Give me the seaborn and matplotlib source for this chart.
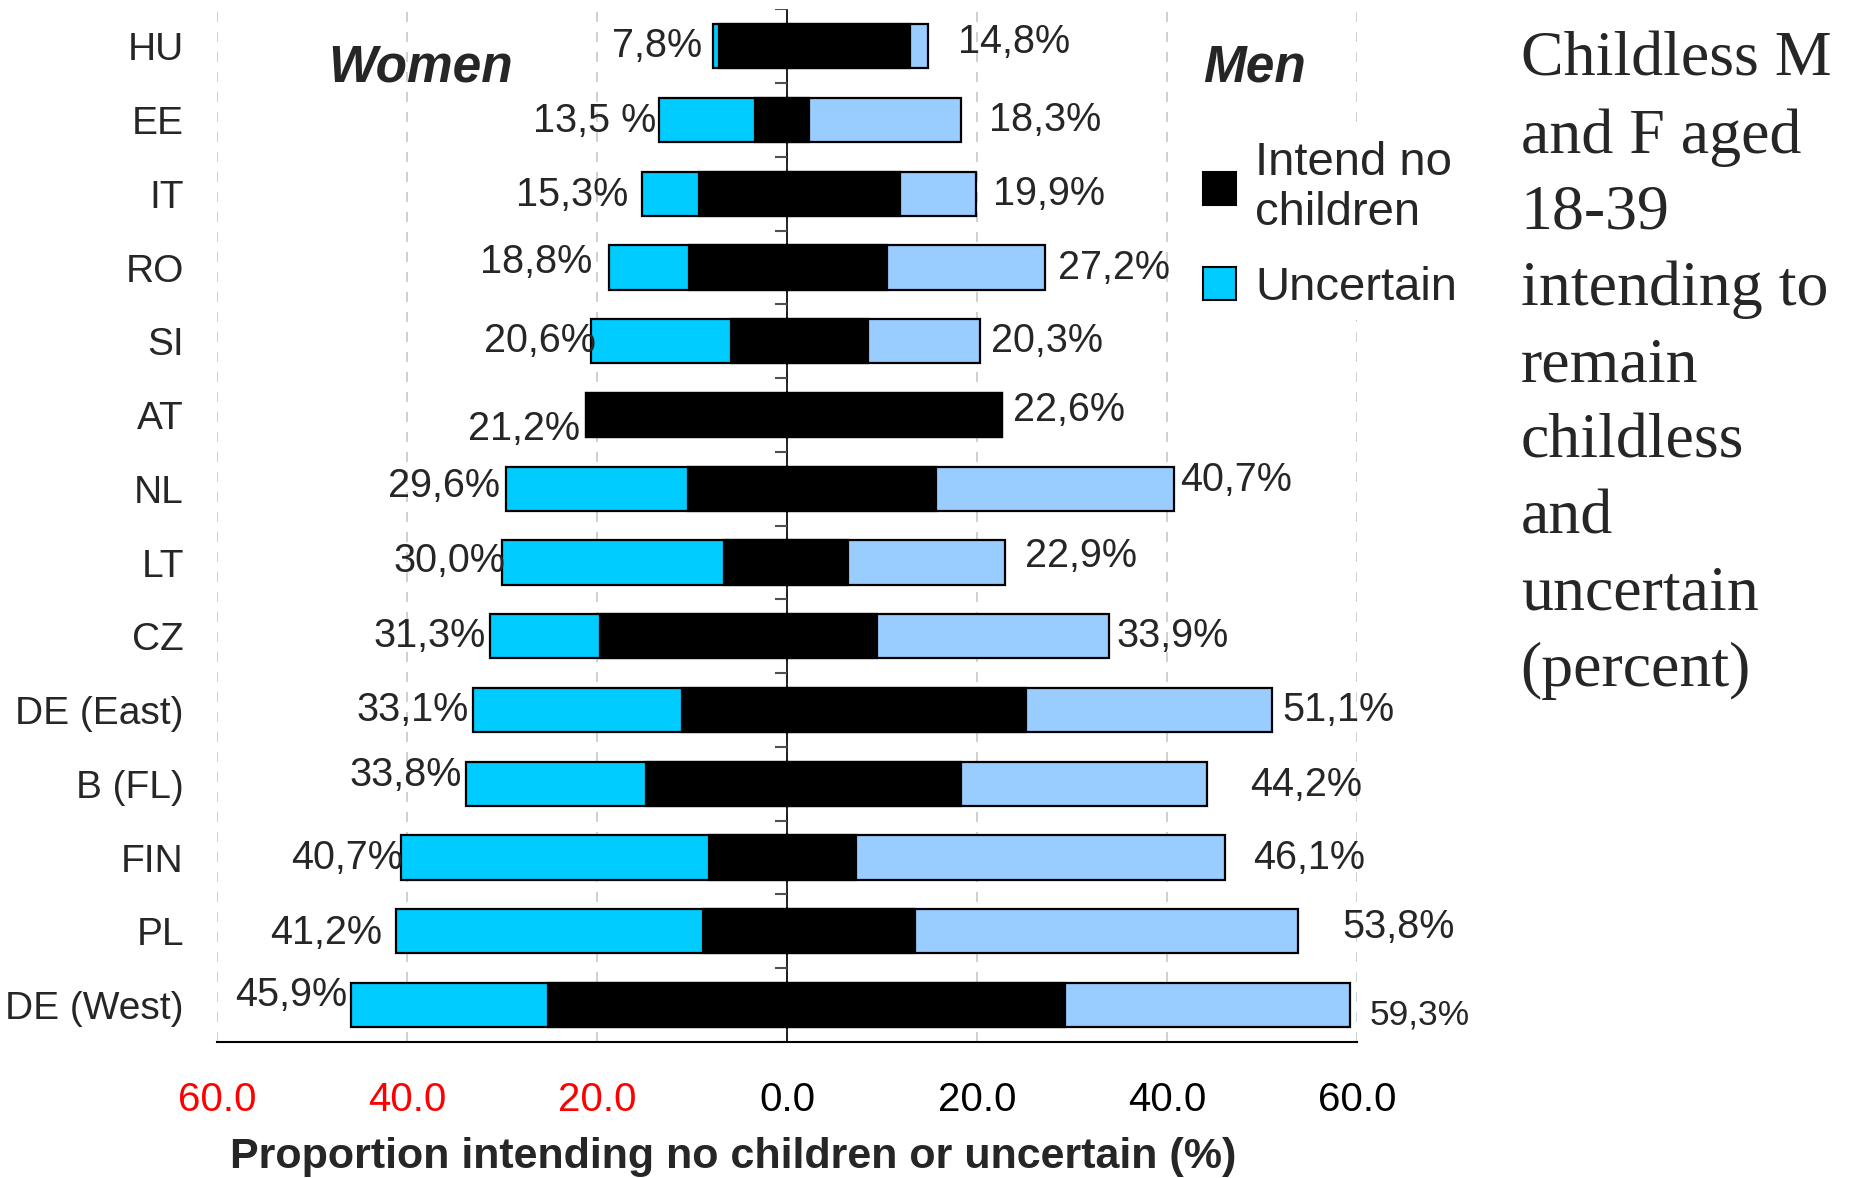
import numpy as np
import pandas as pd
import matplotlib
matplotlib.use("Agg")
import matplotlib.pyplot as plt
from matplotlib.patches import Patch
import seaborn as sns

# data
countries = ["HU", "EE", "IT", "RO", "SI", "AT", "NL", "LT", "CZ",
             "DE (East)", "B (FL)", "FIN", "PL", "DE (West)"]
women_total = [7.8, 13.5, 15.3, 18.8, 20.6, 21.2, 29.6, 30.0, 31.3, 33.1, 33.8, 40.7, 41.2, 45.9]
women_intend = [7.2, 3.4, 9.3, 10.3, 5.9, 21.2, 10.4, 6.6, 19.7, 11.1, 14.9, 8.2, 8.8, 25.2]
men_total = [14.8, 18.3, 19.9, 27.2, 20.3, 22.6, 40.7, 22.9, 33.9, 51.1, 44.2, 46.1, 53.8, 59.3]
men_intend = [12.9, 2.3, 11.9, 10.5, 8.5, 22.6, 15.7, 6.4, 9.5, 25.2, 18.3, 7.3, 13.5, 29.3]
women_text = ["7,8%", "13,5 %", "15,3%", "18,8%", "20,6%", "21,2%", "29,6%", "30,0%",
              "31,3%", "33,1%", "33,8%", "40,7%", "41,2%", "45,9%"]
men_text = ["14,8%", "18,3%", "19,9%", "27,2%", "20,3%", "22,6%", "40,7%", "22,9%",
            "33,9%", "51,1%", "44,2%", "46,1%", "53,8%", "59,3%"]
xticks = [-60, -40, -20, 0, 20, 40, 60]
xtick_labels = ["60.0", "40.0", "20.0", "0.0", "20.0", "40.0", "60.0"]

# label nudges (points): horizontal gap and vertical shift
women_pad = [8, 2, 10, 12, -3, 4, 4, -2, 3, 3, 3, -2, 10, 3]
women_dy = [0, -1, -1, 4, 0, -10, 2, 1, 0, 0, 6, 0, -1, 7]
men_pad = [22, 20, 12, 9, 8, 8, 5, 15, 5, 7, 31, 20, 32, 14]
men_dy = [3, 0, 0, 0, 0, 4, 6, 5, 0, 0, -1, 0, 3, -7]

CYAN = "#00CCFF"
LIGHT = "#99CCFF"

sns.set_style("white")
plt.rcParams["font.family"] = ["Liberation Sans", "DejaVu Sans"]

df = pd.DataFrame({
    "country": countries,
    "w_total": -np.array(women_total),
    "w_intend": -np.array(women_intend),
    "m_total": men_total,
    "m_intend": men_intend,
})

fig = plt.figure(figsize=(18.5, 11.78), dpi=100)
ax = fig.add_axes([0.1174, 0.1155, 0.6161, 0.8765])

bar_kw = dict(y="country", orient="h", width=0.6, saturation=1,
              edgecolor="black", linewidth=1.6, ax=ax, zorder=3)
sns.barplot(data=df, x="w_total", color=CYAN, **bar_kw)
sns.barplot(data=df, x="w_intend", color="black", **bar_kw)
sns.barplot(data=df, x="m_total", color=LIGHT, **bar_kw)
sns.barplot(data=df, x="m_intend", color="black", **bar_kw)

ax.set_xlim(-60, 60)
ax.set_ylim(13.5, -0.5)

# value labels
for i in range(len(countries)):
    ax.annotate(women_text[i], (-women_total[i], i), xytext=(-women_pad[i], women_dy[i]),
                textcoords="offset points", ha="right", va="center", fontsize=28.5, zorder=5)
    ax.annotate(men_text[i], (men_total[i], i), xytext=(men_pad[i], men_dy[i]),
                textcoords="offset points", ha="left", va="center",
                fontsize=25.5 if i == len(countries) - 1 else 28.5, zorder=5)

# centre line with row ticks
ax.axvline(0, color="black", lw=1.2, zorder=2)
ax.hlines(np.arange(-0.5, len(countries), 1), -1.3, 0, color="#505050", lw=1.5, zorder=2)

ax.grid(axis="x", linestyle=(0, (6, 6)), color="#c8c8c8", lw=1.2)
ax.grid(axis="y", visible=False)
ax.set_axisbelow(True)

for s in ["top", "right", "left"]:
    ax.spines[s].set_visible(False)
ax.spines["bottom"].set_color("black")
ax.spines["bottom"].set_linewidth(1.5)

ax.set_xticks(xticks)
ax.set_xticklabels(xtick_labels, fontsize=29)
for lab, t in zip(ax.get_xticklabels(), xticks):
    lab.set_color("red" if t < 0 else "black")
ax.tick_params(axis="x", direction="out", length=9, width=1.2, color="black", pad=19)
ax.tick_params(axis="y", length=0, pad=24, labelsize=28)
ax.set_ylabel("")
ax.set_xlabel("Proportion intending no children or uncertain (%)", fontsize=31, fontweight="bold")
ax.xaxis.set_label_coords(0.453, -0.092)

ax.text(-38.6, 0.3, "Women", fontsize=37, fontweight="bold", fontstyle="italic",
        ha="center", va="center", zorder=5)
ax.text(49.2, 0.3, "Men", fontsize=37, fontweight="bold", fontstyle="italic",
        ha="center", va="center", zorder=5)

handles = [Patch(facecolor="black", edgecolor="black", linewidth=1.5),
           Patch(facecolor=CYAN, edgecolor="black", linewidth=1.5)]
leg = ax.legend(handles, ["Intend no\nchildren", "Uncertain"], loc="upper left",
                bbox_to_anchor=(0.836, 0.905), fontsize=34, frameon=True,
                facecolor="white", edgecolor="none", framealpha=1,
                handlelength=0.7, handleheight=0.7, handletextpad=0.4,
                labelspacing=0.65, borderpad=0.2)
leg.set_zorder(4)

fig.text(0.822, 0.973, "Childless M\nand F aged\n18-39\nintending to\nremain\nchildless\nand\nuncertain\n(percent)",
         family=["Liberation Serif", "DejaVu Serif"], fontsize=46, va="top", ha="left",
         linespacing=1.41)

fig.savefig("out.png", dpi=100)
